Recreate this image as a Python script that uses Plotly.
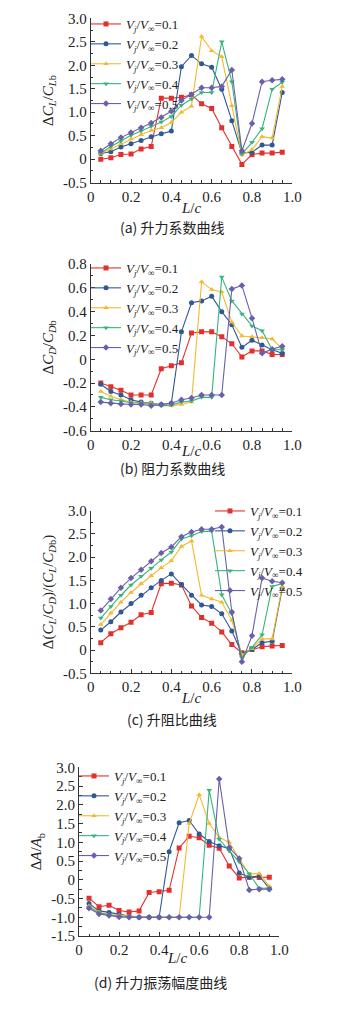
import plotly.graph_objects as go

# ---------------- data ----------------
L_c = [0.05, 0.10, 0.15, 0.20, 0.25, 0.30, 0.35, 0.40, 0.45, 0.50,
       0.55, 0.60, 0.65, 0.70, 0.75, 0.80, 0.85, 0.90, 0.95]

series_names = ["0.1", "0.2", "0.3", "0.4", "0.5"]

# (a) lift coefficient
lift_01 = [0.00, 0.03, 0.10, 0.11, 0.22, 0.27, 1.30, 1.30, 1.32, 1.37, 1.18, 1.08, 0.67, 0.27, -0.11, 0.10, 0.13, 0.13, 0.15]
lift_02 = [0.12, 0.16, 0.26, 0.33, 0.40, 0.48, 0.54, 0.60, 1.97, 2.21, 2.03, 1.96, 1.49, 0.82, 0.13, 0.15, 0.30, 0.30, 1.42]
lift_03 = [0.12, 0.22, 0.33, 0.43, 0.52, 0.61, 0.67, 0.78, 1.00, 1.13, 2.61, 2.31, 2.18, 1.14, 0.09, 0.20, 0.48, 0.45, 1.55]
lift_04 = [0.13, 0.27, 0.39, 0.51, 0.60, 0.70, 0.79, 0.91, 1.15, 1.28, 1.42, 1.42, 2.50, 1.65, 0.11, 0.36, 0.65, 1.49, 1.64]
lift_05 = [0.18, 0.33, 0.46, 0.57, 0.67, 0.77, 0.89, 1.02, 1.25, 1.38, 1.52, 1.52, 1.55, 1.90, 0.18, 0.76, 1.65, 1.68, 1.70]

# (b) drag coefficient
drag_01 = [-0.20, -0.23, -0.26, -0.30, -0.30, -0.30, -0.08, -0.055, -0.03, 0.22, 0.23, 0.23, 0.19, 0.13, 0.02, 0.07, 0.07, 0.04, 0.04]
drag_02 = [-0.21, -0.27, -0.30, -0.34, -0.36, -0.37, -0.38, -0.37, 0.23, 0.475, 0.49, 0.53, 0.40, 0.29, 0.10, 0.16, 0.12, 0.08, 0.05]
drag_03 = [-0.27, -0.31, -0.34, -0.36, -0.365, -0.37, -0.39, -0.39, -0.38, -0.36, 0.65, 0.585, 0.565, 0.31, 0.195, 0.19, 0.18, 0.17, 0.09]
drag_04 = [-0.32, -0.34, -0.35, -0.365, -0.37, -0.38, -0.39, -0.385, -0.36, -0.35, -0.32, -0.32, 0.69, 0.49, 0.38, 0.28, 0.24, 0.08, 0.08]
drag_05 = [-0.36, -0.37, -0.375, -0.38, -0.38, -0.39, -0.38, -0.37, -0.34, -0.325, -0.30, -0.30, -0.30, 0.59, 0.62, 0.345, 0.05, 0.085, 0.11]

# (c) lift-drag ratio
ratio_01 = [0.16, 0.35, 0.48, 0.60, 0.76, 0.81, 1.43, 1.44, 1.40, 0.95, 0.70, 0.58, 0.39, 0.12, -0.06, 0.01, 0.07, 0.09, 0.10]
ratio_02 = [0.43, 0.61, 0.82, 1.00, 1.18, 1.34, 1.50, 1.64, 1.41, 1.18, 0.97, 0.94, 0.78, 0.41, -0.08, 0.01, 0.16, 0.19, 1.33]
ratio_03 = [0.55, 0.80, 1.03, 1.24, 1.43, 1.60, 1.77, 1.92, 2.23, 2.35, 1.18, 1.10, 1.03, 0.64, -0.10, 0.03, 0.24, 0.24, 1.37]
ratio_04 = [0.69, 0.94, 1.18, 1.40, 1.59, 1.76, 1.94, 2.11, 2.39, 2.46, 2.55, 2.56, 1.19, 0.78, -0.16, 0.06, 0.33, 1.37, 1.43]
ratio_05 = [0.85, 1.10, 1.34, 1.55, 1.73, 1.91, 2.09, 2.22, 2.44, 2.54, 2.60, 2.60, 2.65, 0.82, -0.25, 0.31, 1.55, 1.48, 1.45]

# (d) lift oscillation amplitude
amp_01 = [-0.49, -0.72, -0.68, -0.82, -0.86, -0.83, -0.34, -0.32, -0.28, 0.85, 1.16, 1.12, 0.92, 0.84, 0.37, 0.05, 0.07, 0.06, 0.07]
amp_02 = [-0.63, -0.83, -0.87, -0.93, -0.97, -1.00, -1.00, -1.00, 0.75, 1.52, 1.58, 1.22, 1.02, 0.91, 0.83, 0.18, 0.07, 0.10, -0.23]
amp_03 = [-0.70, -0.86, -0.93, -0.95, -0.98, -1.00, -1.00, -1.00, -1.00, -1.00, 1.50, 2.27, 1.50, 1.13, 1.00, 0.55, 0.15, 0.17, -0.17]
amp_04 = [-0.73, -0.88, -0.94, -0.97, -1.00, -1.00, -1.00, -1.00, -1.00, -1.00, -1.00, -1.00, 2.39, 1.08, 0.77, 0.48, 0.16, -0.23, -0.22]
amp_05 = [-0.76, -0.91, -0.95, -0.99, -1.00, -1.00, -1.00, -1.00, -1.00, -1.00, -1.00, -1.00, -1.00, 2.69, 0.86, 0.57, -0.27, -0.25, -0.25]

x_tickvals = [0, 0.2, 0.4, 0.6, 0.8, 1.0]
x_ticktext = ["0", "0.2", "0.4", "0.6", "0.8", "1.0"]
yA_tickvals = [-0.5, 0, 0.5, 1.0, 1.5, 2.0, 2.5, 3.0]
yA_ticktext = ["-0.5", "0", "0.5", "1.0", "1.5", "2.0", "2.5", "3.0"]
yB_tickvals = [-0.6, -0.4, -0.2, 0, 0.2, 0.4, 0.6, 0.8]
yB_ticktext = ["-0.6", "-0.4", "-0.2", "0", "0.2", "0.4", "0.6", "0.8"]
yD_tickvals = [-1.5, -1.0, -0.5, 0, 0.5, 1.0, 1.5, 2.0, 2.5, 3.0]
yD_ticktext = ["-1.5", "-1.0", "-0.5", "0", "0.5", "1.0", "1.5", "2.0", "2.5", "3.0"]

captions = ["(a) 升力系数曲线", "(b) 阻力系数曲线", "(c) 升阻比曲线", "(d) 升力振荡幅度曲线"]

# ---------------- style ----------------
OFF = 8  # default page body margin; figure sized so the page fits the window exactly
W, H = 339 - 2 * OFF, 1018 - 2 * OFF
colors = ["#e2312d", "#2f5897", "#f5b82e", "#36b57a", "#6a60a9"]
symbols = ["square", "circle", "triangle-up", "triangle-down", "diamond"]
SERIF = "Liberation Serif, Times New Roman, serif"
CJK = "Noto Sans CJK SC"

def px_x(p):
    return (p - OFF) / W

def px_y(p):
    return 1 - (p - OFF) / H

panels = [
    dict(data=[lift_01, lift_02, lift_03, lift_04, lift_05], xd=(90.7, 292.3), yd=(18.3, 182.7),
         yr=(-0.5, 3.0), tv=yA_tickvals, tt=yA_ticktext, minor=0.25,
         ytitle="Δ<i>C</i><sub><i>L</i></sub>/<i>C</i><sub><i>L</i>b</sub>",
         leg=(86, 9), cap=(172, 227.5), xt=(191, 208)),
    dict(data=[drag_01, drag_02, drag_03, drag_04, drag_05], xd=(90.7, 292.3), yd=(264.0, 430.7),
         yr=(-0.6, 0.8), tv=yB_tickvals, tt=yB_ticktext, minor=0.1,
         ytitle="Δ<i>C</i><sub><i>D</i></sub>/<i>C</i><sub><i>D</i>b</sub>",
         leg=(86, 253), cap=(172, 467.5), xt=(191, 451)),
    dict(data=[ratio_01, ratio_02, ratio_03, ratio_04, ratio_05], xd=(90.7, 292.3), yd=(510.7, 673.3),
         yr=(-0.5, 3.0), tv=yA_tickvals, tt=yA_ticktext, minor=0.25,
         ytitle="Δ(<i>C</i><sub><i>L</i></sub>/<i>C</i><sub><i>D</i></sub>)/(<i>C</i><sub><i>L</i></sub>/<i>C</i><sub><i>D</i>b</sub>)",
         leg=(210, 496), cap=(172, 719), xt=(191, 698)),
    dict(data=[amp_01, amp_02, amp_03, amp_04, amp_05], xd=(79.0, 279.3), yd=(767.3, 936.0),
         yr=(-1.5, 3.0), tv=yD_tickvals, tt=yD_ticktext, minor=0.25,
         ytitle="Δ<i>A</i>/<i>A</i><sub>b</sub>",
         leg=(74, 761), cap=(160, 982), xt=(177, 958)),
]

fig = go.Figure()
layout = dict(width=W, height=H, margin=dict(l=0, r=0, t=0, b=0, autoexpand=False),
              paper_bgcolor="white", plot_bgcolor="white", showlegend=True,
              font=dict(family=SERIF, size=13, color="#222"))
annotations = []

for i, p in enumerate(panels):
    k = "" if i == 0 else str(i + 1)
    legname = "legend" + k
    for j, ys in enumerate(p["data"]):
        fig.add_trace(go.Scatter(
            x=L_c, y=ys, mode="lines+markers",
            name="<i>V</i><sub><i>j</i></sub>/<i>V</i><sub>∞</sub>=" + series_names[j],
            line=dict(color=colors[j], width=1.1),
            marker=dict(symbol=symbols[j], size=5, color=colors[j]),
            xaxis="x" + k, yaxis="y" + k, legend=legname))
    axstyle = dict(showline=True, linecolor="#333", linewidth=1, showgrid=False, zeroline=False,
                   ticks="inside", ticklen=4, tickcolor="#333", tickwidth=1, automargin=False,
                   tickfont=dict(family=SERIF, size=15, color="#222"))
    layout["xaxis" + k] = dict(domain=[px_x(p["xd"][0]), px_x(p["xd"][1])], anchor="y" + k,
                               range=[0, 1.0], tickvals=x_tickvals, ticktext=x_ticktext,
                               minor=dict(dtick=0.05, tick0=0, ticks="inside", ticklen=2.5, tickcolor="#333"),
                               **axstyle)
    layout["yaxis" + k] = dict(domain=[px_y(p["yd"][1]), px_y(p["yd"][0])], anchor="x" + k,
                               range=list(p["yr"]), tickvals=p["tv"], ticktext=p["tt"],
                               minor=dict(dtick=p["minor"], tick0=0, ticks="inside", ticklen=2.5, tickcolor="#333"),
                               title=dict(text=p["ytitle"], font=dict(family=SERIF, size=15, color="#222"), standoff=5),
                               **axstyle)
    layout[legname] = dict(x=px_x(p["leg"][0]), y=px_y(p["leg"][1]), xanchor="left", yanchor="top",
                           bgcolor="rgba(0,0,0,0)", font=dict(family=SERIF, size=13, color="#222"),
                           itemwidth=30, tracegroupgap=0)
    annotations.append(dict(text="<i>L</i>/<i>c</i>", x=px_x(p["xt"][0]), y=px_y(p["xt"][1]),
                            xref="paper", yref="paper", showarrow=False,
                            xanchor="center", yanchor="middle",
                            font=dict(family=SERIF, size=15, color="#222")))
    annotations.append(dict(text=captions[i], x=px_x(p["cap"][0]), y=px_y(p["cap"][1]),
                            xref="paper", yref="paper", showarrow=False,
                            xanchor="center", yanchor="middle",
                            font=dict(family=CJK, size=14, color="#222")))

layout["annotations"] = annotations
fig.update_layout(**layout)
fig.write_html("out.html")
